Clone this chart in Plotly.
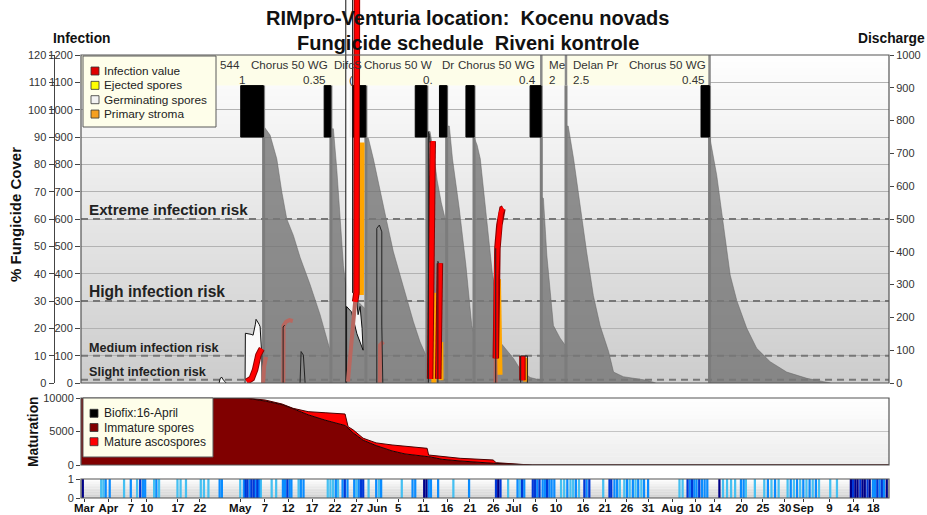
import plotly.graph_objects as go

FONT = "Liberation Sans, Arial, Helvetica, sans-serif"
W, H = 927, 515

# ----------------------------- data (x = day of year) -----------------------------
x_range_days = [84.9, 265.0]

tick_days = [85.6, 91.0, 96.06, 99.6, 106.5, 111.4, 120.4, 125.9, 131.1, 136.4, 141.5, 146.4,
             150.9, 155.6, 161.2, 166.5, 171.6, 176.8, 181.3, 186.1, 190.8, 196.8, 201.7, 206.6,
             211.3, 216.7, 221.8, 226.2, 232.2, 236.9, 241.8, 245.9, 251.7, 257.0, 261.5]
tick_labels = ["Mar", "Apr", "7", "10", "17", "22", "May", "7", "12", "17", "22", "27",
               "Jun", "5", "11", "16", "21", "26", "Jul", "6", "10", "16", "21", "26",
               "31", "Aug", "10", "14", "20", "25", "30", "Sep", "9", "14", "18"]

risk_levels = [12, 100, 300, 600]
risk_names = ["Slight infection risk", "Medium infection risk", "High infection risk", "Extreme infection risk"]
risk_font_sizes = [12.6, 12.6, 15.6, 15.2]

spray_days = [125.6, 140.6, 148.4, 162.0, 166.4, 172.5, 187.5, 193.0, 225.0]
spray_bar_start = [120.5, 139.1, 144.9, 159.4, 164.8, 170.7, 185.0, 223.1]
spray_bar_end = [125.55, 140.58, 148.38, 161.98, 166.44, 172.52, 187.46, 224.97]
label_box_edges = [187.5, 193.0, 225.0]

spray_names = ["544", "Chorus 50 WG", "Difc", "S", "Chorus 50 W", "Dr", "Chorus 50 WG", "Me", "Delan Pr", "Chorus 50 WG"]
spray_name_days = [115.45, 140.42, 140.75, 145.32, 147.49, 164.94, 186.5, 188.73, 194.08, 224.75]
spray_name_align = ["left", "right", "left", "left", "left", "left", "right", "left", "left", "right"]
spray_doses = ["1", "0.35", "(", "0.", "0.4", "2", "2.5", "0.45"]
spray_dose_days = [119.62, 140.04, 144.14, 163.83, 186.85, 188.73, 194.08, 224.39]
spray_dose_align = ["left", "right", "left", "right", "right", "left", "left", "right"]

# % fungicide cover after each spray
cover_days = [
    [125.6, 127.05, 128.54, 129.65, 130.77, 132.24, 133.73, 135.96, 138.19, 139.68, 140.58],
    [140.6, 141.16, 141.9, 142.65, 143.39, 143.83, 145.3, 147.1, 148.35],
    [148.4, 148.96, 150.07, 151.57, 153.06, 154.53, 156.02, 157.52, 158.99, 160.48, 161.82, 161.98],
    [162.0, 162.7, 163.5, 164.3, 165.2, 166.38],
    [166.4, 167.0, 167.7, 169.2, 170.7, 172.0, 172.48],
    [172.5, 173.2, 173.9, 175.4, 176.6, 177.4, 178.3, 181.3, 182.8, 185.0, 187.48],
    [187.5, 187.97, 188.73, 190.2, 191.7, 192.8, 192.98],
    [193.0, 193.5, 194.7, 196.2, 197.6, 199.1, 200.6, 202.5, 203.6, 205.8, 211.0, 213.0],
    [225.0, 225.1, 226.6, 228.1, 229.6, 231.1, 233.3, 235.5, 238.5, 242.2, 246.7, 250.4, 252.0],
]
cover_pct = [
    [94, 90.7, 82, 70, 60, 54, 46, 36, 25, 16.5, 11],
    [93, 93, 78.5, 59, 43, 37, 32, 29, 27],
    [89.5, 89.5, 82, 70, 59, 48, 39.5, 31, 22.4, 15, 10, 9.5],
    [92, 92, 84, 74, 66, 58],
    [94, 94, 82, 64, 43, 21, 18],
    [90, 87, 82, 60, 40, 32, 15, 9, 5, 2, 1],
    [68, 67.6, 46.8, 21, 16.4, 13.9, 13.5],
    [94, 94, 82, 64, 48, 32, 21, 11.5, 4, 2.3, 1, 0],
    [89.5, 89.5, 76, 58, 39.5, 30, 20, 12.7, 7.8, 4, 1.7, 0.5, 0],
]

# infection value (red)
infection_days = [
    [121.85, 122.97, 123.70, 124.08, 124.44, 125.04, 125.20],
    [146.0, 146.3, 146.4],
    [162.72, 162.85, 162.95, 163.05, 163.3],
    [164.52, 164.6, 164.65, 164.9],
    [177.36, 177.43, 177.72, 178.16, 178.47, 178.83, 179.05],
    [183.29, 183.29],
]
infection_vals = [
    [5, 17, 48, 84, 102, 121, 125],
    [297, 330, 1450],
    [15, 300, 600, 870, 885],
    [15, 200, 430, 438],
    [90, 383, 493, 578, 621, 637, 639],
    [10, 99],
]
# infection under fungicide cover (muted)
covered_days = [
    [125.49, 125.71, 126.16],
    [130.0, 130.05, 130.61, 131.35, 132.11],
    [144.4, 145.2, 146.0],
    [151.5, 151.57, 152.3],
    [177.3, 177.36],
]
covered_vals = [
    [0, 60, 95],
    [0, 210, 224, 230, 227],
    [5, 150, 297],
    [0, 139, 151],
    [0, 90],
]
# primary stroma (orange)
stroma_days = [
    [147.4, 147.5, 147.55],
    [163.55, 163.55],
    [165.15, 165.1],
    [178.3, 178.1, 177.95],
    [184.0, 184.0],
]
stroma_vals = [
    [322, 600, 880],
    [0, 330],
    [10, 150],
    [30, 200, 380],
    [5, 92],
]
# germinating spores (filled areas)
germ_days = [
    [115.68, 115.9, 116.23, 116.57, 117.01, 117.23],
    [121.47, 121.54, 122.81, 123.26, 123.77, 123.92, 124.59, 124.82, 125.20, 125.26],
    [143.92, 143.92, 145.44, 145.44, 146.22, 146.66, 147.11, 147.55, 147.78, 146.4, 145.2, 144.1, 144.1],
]
germ_vals = [
    [0, 15, 22, 12, 5, 0],
    [0, 182, 178, 175, 215, 233, 215, 206, 100, 0],
    [0, 1450, 1450, 330, 320, 250, 280, 200, 120, 180, 260, 280, 0],
]
# germinating spores (outlines only)
germ_line_days = [
    [129.95, 129.95, 130.3],
    [133.73, 133.96, 134.47, 134.85],
    [150.83, 150.83, 151.41, 151.95, 151.95, 152.17],
    [162.33, 162.33, 162.6, 162.7],
    [164.45, 164.45, 164.6],
    [177.34, 177.34],
    [182.9, 182.9, 184.4, 184.4],
]
germ_line_vals = [
    [0, 205, 212],
    [0, 115, 102, 0],
    [0, 566, 578, 553, 212, 0],
    [0, 919, 905, 880],
    [0, 445, 440],
    [0, 493],
    [0, 99, 99, 0],
]

# maturation
mat_days = [84.91, 121.47, 125.93, 129.72, 132.17, 135.52, 139.31, 143.76, 144.43, 145.55, 147.78,
            150.68, 154.24, 157.14, 162.05, 162.38, 165.39, 169.40, 176.76, 177.43, 182.33, 185.45, 265.0]
immature = [10000, 10000, 9550, 9000, 8400, 7500, 6700, 5900, 5500, 4800, 3700,
            2900, 2100, 1650, 1260, 1250, 850, 600, 260, 240, 90, 0, 0]
mature = [0, 0, 150, 100, 60, 460, 1100, 1710, 220, 450, 300,
          400, 890, 1150, 1230, 240, 390, 400, 490, 110, 30, 0, 0]

# wetness strip (days with wet periods, by intensity)
wet_light = [89.4, 89.9, 94.5, 97.4, 101.2, 102.3, 106.4, 107.1, 108.3, 111.6, 112.3, 113.3, 120.4, 125.0,
             127.4, 128.4, 133.4, 139.9, 140.5, 141.1, 142.2, 146.3, 149.0, 151.3, 156.4, 167.9, 180.1,
             182.7, 191.9, 192.6, 194.0, 194.6, 195.9, 201.3, 205.0, 206.0, 207.2, 208.5, 209.8, 218.3,
             219.0, 228.0, 228.9, 229.8, 230.7, 233.1, 235.1, 237.2, 238.8, 240.4, 242.4, 243.8, 245.2,
             246.6, 248.0, 249.4, 251.9, 253.4]
wet_medium = [90.4, 91.3, 96.0, 98.7, 99.2, 101.7, 115.8, 116.3, 121.2, 122.5, 123.8, 124.6, 129.9, 130.4,
              131.4, 131.8, 133.9, 134.5, 141.7, 143.2, 144.3, 145.8, 146.8, 150.7, 151.8, 158.8, 159.4,
              162.4, 162.9, 164.5, 171.4, 182.2, 183.7, 186.6, 187.8, 188.3, 189.3, 189.8, 190.4, 193.3,
              195.2, 197.6, 203.8, 204.4, 206.6, 207.9, 209.1, 210.4, 211.3, 220.6, 221.6, 222.1, 223.3,
              223.9, 224.5, 232.0, 232.6, 238.0, 239.6, 243.1, 244.5, 245.9, 247.3, 248.7, 261.4, 261.9,
              262.9, 263.9]
wet_dark = [98.1, 121.6, 122.0, 122.9, 123.4, 124.2, 130.9, 143.7, 147.3, 147.8, 177.4, 178.4, 183.2,
            185.6, 186.1, 187.1, 188.8, 197.1, 198.2, 202.7, 203.1, 220.1, 221.1, 222.7, 257.0, 258.6,
            260.2, 262.4, 263.4]
wet_navy = [85.3, 161.4, 161.9, 177.9, 227.2, 256.5, 257.5, 258.0, 259.1, 259.6, 260.7, 264.5]

main_legend = ["Infection value", "Ejected spores", "Germinating spores", "Primary stroma"]
main_legend_colors = ["#e00000", "#ffff00", "#f2f2f2", "#f5a020"]
mat_legend = ["Biofix:16-April", "Immature spores", "Mature ascospores"]
mat_legend_colors = ["#000000", "#800000", "#ff0000"]

# ----------------------------- geometry helpers -----------------------------
def pxx(x):
    return x / W

def pxy(y):
    return (H - y) / H

X_DOM = [pxx(81), pxx(889)]
Y_MAIN = [pxy(383), pxy(55)]
Y_EXT = [pxy(383), 1.0]
Y_MAT = [pxy(465), pxy(398)]
Y_STRIP = [pxy(498), pxy(479)]
EXT_TOP = 1200 * (383.0 / 328.0)
BAR_LO, BAR_HI = 900, 1088

fig = go.Figure()

# fungicide cover
for d, c in zip(cover_days, cover_pct):
    fig.add_trace(go.Scatter(x=d, y=c, xaxis="x", yaxis="y2", mode="lines", fill="tozeroy",
                             fillcolor="rgba(112,112,112,0.76)",
                             line=dict(color="rgba(95,95,95,0.8)", width=0.6), hoverinfo="skip"))

# empty trace for discharge axis
fig.add_trace(go.Scatter(x=[None], y=[None], xaxis="x", yaxis="y6", mode="lines", hoverinfo="skip"))

# spray lines
sx, sy = [], []
for d in spray_days:
    sx += [d, d, None]
    sy += [0, BAR_HI, None]
fig.add_trace(go.Scatter(x=sx, y=sy, xaxis="x", yaxis="y5", mode="lines",
                         line=dict(color="#7c7c7c", width=3), hoverinfo="skip"))
ex, ey = [], []
for d in label_box_edges:
    ex += [d, d, None]
    ey += [BAR_HI, 1200, None]
fig.add_trace(go.Scatter(x=ex, y=ey, xaxis="x", yaxis="y5", mode="lines",
                         line=dict(color="#8a8a8a", width=2.5), hoverinfo="skip"))

# risk lines
for lv in risk_levels:
    fig.add_trace(go.Scatter(x=x_range_days, y=[lv, lv], xaxis="x", yaxis="y5", mode="lines",
                             line=dict(color="#777777", width=2, dash="7px,5px"), hoverinfo="skip"))

# spray bars
for s, e in zip(spray_bar_start, spray_bar_end):
    fig.add_trace(go.Scatter(x=[s, e, e, s, s], y=[BAR_LO, BAR_LO, BAR_HI, BAR_HI, BAR_LO],
                             xaxis="x", yaxis="y5", mode="lines", fill="toself", fillcolor="#000000",
                             line=dict(color="#000000", width=1), hoverinfo="skip"))

# germinating spores areas
for d, v in zip(germ_days, germ_vals):
    fig.add_trace(go.Scatter(x=d, y=v, xaxis="x", yaxis="y5", mode="lines", fill="toself",
                             fillcolor="rgba(252,252,252,0.95)", line=dict(color="#111111", width=1),
                             hoverinfo="skip"))

# covered infections
for d, v in zip(covered_days, covered_vals):
    fig.add_trace(go.Scatter(x=d, y=v, xaxis="x", yaxis="y5", mode="lines",
                             line=dict(color="#b9675f", width=4), hoverinfo="skip"))

# primary stroma
for d, v in zip(stroma_days, stroma_vals):
    fig.add_trace(go.Scatter(x=d, y=v, xaxis="x", yaxis="y5", mode="lines",
                             line=dict(color="#ffa500", width=5), hoverinfo="skip"))

# infection value
for d, v in zip(infection_days, infection_vals):
    fig.add_trace(go.Scatter(x=d, y=v, xaxis="x", yaxis="y5", mode="lines",
                             line=dict(color="#8a0000", width=6.5), hoverinfo="skip"))
    fig.add_trace(go.Scatter(x=d, y=v, xaxis="x", yaxis="y5", mode="lines",
                             line=dict(color="#ff0000", width=4.5), hoverinfo="skip"))

# germinating outlines
for d, v in zip(germ_line_days, germ_line_vals):
    fig.add_trace(go.Scatter(x=d, y=v, xaxis="x", yaxis="y5", mode="lines",
                             line=dict(color="#222222", width=1), hoverinfo="skip"))

# maturation
fig.add_trace(go.Scatter(x=mat_days, y=immature, xaxis="x2", yaxis="y3", mode="lines",
                         stackgroup="mat", fillcolor="#800000",
                         line=dict(color="#1a0000", width=1), hoverinfo="skip"))
fig.add_trace(go.Scatter(x=mat_days, y=mature, xaxis="x2", yaxis="y3", mode="lines",
                         stackgroup="mat", fillcolor="#ff0000",
                         line=dict(color="#4a0000", width=1), hoverinfo="skip"))

# wetness strip
for days, col in [(wet_light, "#45c0f2"), (wet_medium, "#0a8cff"), (wet_dark, "#0038d8"), (wet_navy, "#000088")]:
    fig.add_trace(go.Bar(x=days, y=[1] * len(days), width=0.5, xaxis="x3", yaxis="y4",
                         marker=dict(color=col, line=dict(width=0)), hoverinfo="skip"))

# ----------------------------- shapes -----------------------------
shapes = []

def grad(xa, ya, lo, hi, n=48):
    out = []
    for i in range(n):
        t = (i + 0.5) / n
        g = round(lo + (hi - lo) * t)
        out.append(dict(type="rect", xref=f"{xa} domain", yref=f"{ya} domain", x0=0, x1=1,
                        y0=i / n, y1=min(1, (i + 1) / n + 0.003),
                        fillcolor=f"rgb({g},{g},{g})", line=dict(width=0), layer="below"))
    return out

shapes += grad("x", "y", 204, 255)
shapes += grad("x2", "y3", 236, 255, 16)
shapes += grad("x3", "y4", 206, 255, 12)

shapes.append(dict(type="rect", xref="x", yref="y", x0=x_range_days[0], x1=spray_days[-1],
                   y0=BAR_HI, y1=1200, fillcolor="#fdfde9", line=dict(width=0), layer="between"))

for xa, ya in [("x", "y"), ("x2", "y3"), ("x3", "y4")]:
    shapes.append(dict(type="rect", xref=f"{xa} domain", yref=f"{ya} domain", x0=0, x1=1, y0=0, y1=1,
                       line=dict(color="#555555", width=1.2), fillcolor="rgba(0,0,0,0)", layer="above"))

# legend boxes
shapes.append(dict(type="rect", xref="paper", yref="paper", x0=pxx(83), x1=pxx(216), y0=pxy(127), y1=pxy(56),
                   fillcolor="#fefeea", line=dict(color="#5a5a5a", width=1), layer="above"))
shapes.append(dict(type="rect", xref="paper", yref="paper", x0=pxx(83), x1=pxx(213), y0=pxy(457), y1=pxy(398),
                   fillcolor="#fefeea", line=dict(color="#5a5a5a", width=1), layer="above"))

annotations = []
for i, (name, col) in enumerate(zip(main_legend, main_legend_colors)):
    yc = 71 + i * 14.35
    shapes.append(dict(type="rect", xref="paper", yref="paper", x0=pxx(91), x1=pxx(99), y0=pxy(yc + 4), y1=pxy(yc - 4),
                       fillcolor=col, line=dict(color="#333333", width=0.8), layer="above"))
    annotations.append(dict(text=name, x=pxx(102), y=pxy(yc), xref="paper", yref="paper", xanchor="left",
                            yanchor="middle", showarrow=False, font=dict(size=11.8, color="#222", family=FONT)))
for i, (name, col) in enumerate(zip(mat_legend, mat_legend_colors)):
    yc = 413.3 + i * 14.2
    shapes.append(dict(type="rect", xref="paper", yref="paper", x0=pxx(90), x1=pxx(98), y0=pxy(yc + 4), y1=pxy(yc - 4),
                       fillcolor=col, line=dict(color="#333333", width=0.8), layer="above"))
    annotations.append(dict(text=name, x=pxx(102), y=pxy(yc), xref="paper", yref="paper", xanchor="left",
                            yanchor="middle", showarrow=False, font=dict(size=12, color="#222", family=FONT)))

# ----------------------------- annotations -----------------------------
def pa(text, x, y, size, **kw):
    d = dict(text=text, x=pxx(x), y=pxy(y), xref="paper", yref="paper", showarrow=False,
             xanchor="center", yanchor="middle", font=dict(size=size, color="#111", family=FONT))
    d.update(kw)
    return d

annotations.append(pa("<b>RIMpro-Venturia location: \u00a0Kocenu novads</b>", 467, 18, 20))
annotations.append(pa("<b>Fungicide schedule \u00a0Riveni kontrole</b>", 468, 43, 20))
annotations.append(pa("<b>Infection</b>", 81.5, 38, 13.8))
annotations.append(pa("<b>Discharge</b>", 891.5, 38, 13.8))
annotations.append(pa("<b>% Fungicide Cover</b>", 15, 215, 15, textangle=-90))
annotations.append(pa("<b>Maturation</b>", 33, 432, 13.8, textangle=-90))

for lv, nm, fs in zip(risk_levels, risk_names, risk_font_sizes):
    annotations.append(dict(text=f"<b>{nm}</b>", x=6.0 / 808, y=lv, xref="x domain", yref="y5",
                            xanchor="left", yanchor="bottom", showarrow=False, yshift=-1,
                            font=dict(size=fs, color="#222", family=FONT)))

for t, d, al in zip(spray_names, spray_name_days, spray_name_align):
    annotations.append(dict(text=t, x=d, y=1167, xref="x", yref="y", xanchor=al, yanchor="middle",
                            showarrow=False, font=dict(size=11.6, color="#333", family=FONT)))
for t, d, al in zip(spray_doses, spray_dose_days, spray_dose_align):
    annotations.append(dict(text=t, x=d, y=1112, xref="x", yref="y", xanchor=al, yanchor="middle",
                            showarrow=False, font=dict(size=11.6, color="#333", family=FONT)))

tickfont = dict(size=11, color="#333", family=FONT)
common_x = dict(domain=X_DOM, range=x_range_days, showgrid=False, zeroline=False, showline=False,
                automargin=False)

fig.update_layout(
    template="none",
    width=W, height=H, margin=dict(l=0, r=0, t=0, b=0, pad=0, autoexpand=False),
    paper_bgcolor="white", plot_bgcolor="rgba(0,0,0,0)", showlegend=False, barmode="overlay",
    font=dict(family=FONT, size=11, color="#333"),
    xaxis=dict(common_x, anchor="y", showticklabels=False, ticks=""),
    xaxis2=dict(common_x, anchor="y3", showticklabels=False, ticks=""),
    xaxis3=dict(common_x, anchor="y4", tickmode="array", tickvals=tick_days,
                ticktext=[f"<b>{t}</b>" for t in tick_labels], ticks="outside", ticklen=3,
                ticklabelstandoff=-4,
                tickangle=0, tickcolor="#333", tickfont=dict(size=11.5, color="#111", family=FONT)),
    yaxis=dict(domain=Y_MAIN, range=[0, 1200], anchor="x", tickmode="linear", tick0=0, dtick=100,
               ticks="outside", ticklen=5, tickcolor="#444", showgrid=True, gridcolor="#b2b2b2",
               gridwidth=1, zeroline=False, showline=False, tickfont=tickfont, automargin=False),
    yaxis2=dict(overlaying="y", anchor="free", position=pxx(53.5), side="left", range=[0, 120],
                tickmode="linear", tick0=0, dtick=10, ticks="outside", ticklen=5, tickcolor="#444",
                showgrid=False, zeroline=False, showline=True, linecolor="#444", linewidth=1,
                tickfont=tickfont, automargin=False),
    yaxis3=dict(domain=Y_MAT, anchor="x2", range=[0, 10000], tickmode="array", tickvals=[0, 5000, 10000],
                ticktext=["0", "5000", "10000"],
                ticks="outside", ticklen=4, tickcolor="#444", showgrid=True, gridcolor="#c4c4c4",
                zeroline=False, showline=False, tickfont=tickfont, automargin=False),
    yaxis4=dict(domain=Y_STRIP, anchor="x3", range=[0, 1], tickmode="array", tickvals=[0, 1],
                ticktext=["0", "1"],
                ticks="outside", ticklen=4, tickcolor="#444", showgrid=False, zeroline=False,
                showline=False, tickfont=tickfont, automargin=False),
    yaxis5=dict(domain=Y_EXT, anchor="x", range=[0, EXT_TOP], visible=False, fixedrange=True,
                automargin=False),
    yaxis6=dict(overlaying="y", anchor="x", side="right", range=[0, 1000], tickmode="linear", tick0=0,
                dtick=100, ticks="outside", ticklen=4, tickcolor="#444", showgrid=False,
                zeroline=False, showline=False, tickfont=tickfont, automargin=False),
    shapes=shapes,
    annotations=annotations,
)

fig.write_html("out.html")
